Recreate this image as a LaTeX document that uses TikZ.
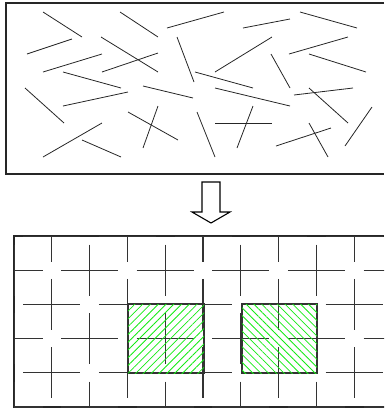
\documentclass[tikz,border=0pt]{standalone}
\usepackage{tikz}
\usetikzlibrary{patterns.meta}
\definecolor{hatchgreen}{RGB}{20,235,20}

\begin{document}
\begin{tikzpicture}[x=1pt,y=-1pt,
frame/.style={line width=1.3pt,black!85},
fibre/.style={line width=0.8pt,black!85},
cell/.style={line width=1.2pt,black!80},
hatchright/.style={pattern={Lines[angle=45,distance=5.5pt,line width=0.8pt]},pattern color=hatchgreen},
hatchleft/.style={pattern={Lines[angle=-45,distance=5.5pt,line width=0.8pt]},pattern color=hatchgreen},
hollow/.style={line width=1.1pt,black,fill=white}]
\useasboundingbox (0,0) rectangle (384,408);
% random fibres
\draw[frame] (384,3) -- (6,3) -- (6,174) -- (384,174);
\foreach \a/\b/\c/\d in {43/12/82/37,120/12/158/37,167/28/224/12,243/28/290/19,300/12/357/28,
  27/54/72/39,101/37/158/72,177/37/194/82,215/72/272/37,289/54/348/37,
  43/72/102/54,102/72/158/53,271/54/290/88,309/54/366/72,63/72/121/88,
  195/72/253/88,25/88/64/123,63/106/128/92,143/86/193/98,215/88/290/106,
  294/95/353/88,309/88/348/123,345/146/372/107,128/112/178/140,158/106/143/148,
  197/112/215/157,215/123/272/123,253/106/237/148,43/157/102/123,82/140/121/157,
  276/146/331/128,309/123/328/157}
  \draw[fibre] (\a,\b) -- (\c,\d);
% arrow
\draw[hollow] (202,182) -- (220,182) -- (220,212) -- (230,212) -- (211,223) -- (192,212) -- (202,212) -- cycle;
% grid of crosses
\draw[frame] (384,236) -- (14,236) -- (14,407) -- (384,407);
\begin{scope}
\clip (14,236) rectangle (384,407);
\foreach \x in {51.8,127.4,203,278.6,354.2}
  \foreach \y in {236,304.4,372.8}
    \draw[cell] (\x-28.5,\y) -- (\x+28.5,\y) (\x,\y-25.5) -- (\x,\y+25.5);
\foreach \x in {14,89.6,165.2,240.8,316.4,392}
  \foreach \y in {270.2,338.6,407}
    \draw[cell] (\x-28.5,\y) -- (\x+28.5,\y) (\x,\y-25.5) -- (\x,\y+25.5);
\end{scope}
% hatched cells
\draw[cell] (128,304) rectangle (204,373);
\draw[cell] (242,304) rectangle (317,373);
\fill[hatchright] (128,304) rectangle (204,373);
\fill[hatchleft] (242,304) rectangle (317,373);
\end{tikzpicture}
\end{document}
